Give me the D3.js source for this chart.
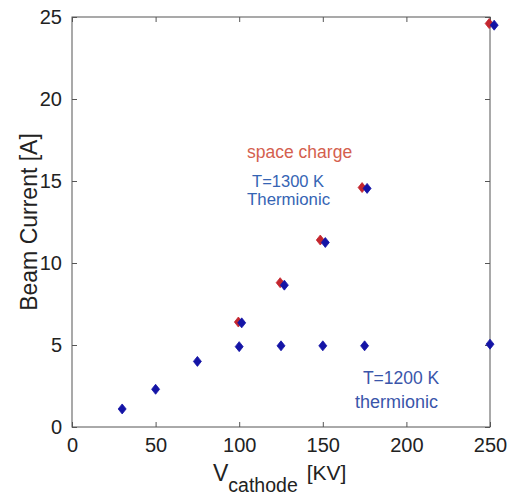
<!DOCTYPE html>
<html>
<head>
<meta charset="utf-8">
<script src="https://cdn.jsdelivr.net/npm/d3@7"></script>
<style>
  body { margin: 0; background: #fff; }
  text { font-family: "Liberation Sans", Arial, sans-serif; }
</style>
</head>
<body>
<svg width="508" height="495"></svg>
<script>
// space charge limited (red) and T=1300 K thermionic (blue, drawn slightly right)
const spaceV = [99.5, 124.5, 148.5, 173.5, 249.5];
const spaceI = [6.4, 8.8, 11.4, 14.6, 24.6];
const therm1300V = [101.5, 127, 151.5, 176.5, 252.5];
const therm1300I = [6.35, 8.65, 11.25, 14.55, 24.5];
// T=1200 K thermionic
const therm1200V = [30, 50, 75, 100, 125, 150, 175, 250];
const therm1200I = [1.1, 2.3, 4.0, 4.9, 4.95, 4.95, 4.95, 5.05];
const xTicks = [0, 50, 100, 150, 200, 250];
const yTicks = [0, 5, 10, 15, 20, 25];

const margin = {top: 17, right: 18, bottom: 68, left: 72};
const width = 508 - margin.left - margin.right,
      height = 495 - margin.top - margin.bottom;

let svg = d3.select('svg');
let g = svg.append('g').attr('transform', `translate(${margin.left},${margin.top})`);

let x = d3.scaleLinear().domain([0, 250]).range([0, width]);
let y = d3.scaleLinear().domain([0, 25]).range([height, 0]);

const axisColor = '#555';

// box + inward ticks like matlab
g.append('rect')
    .attr('width', width).attr('height', height)
    .attr('fill', 'none').attr('stroke', axisColor).attr('stroke-width', 1);

function styleAxis(sel) {
    sel.select('.domain').remove();
    sel.selectAll('.tick line').attr('stroke', axisColor);
    sel.selectAll('.tick text')
        .attr('fill', '#222')
        .style('font-size', '20px');
}

g.append('g').attr('transform', `translate(0,${height})`)
    .call(d3.axisBottom(x).tickValues(xTicks).tickSize(-5).tickPadding(11))
    .call(styleAxis);
g.append('g')
    .call(d3.axisTop(x).tickValues(xTicks).tickSize(-5).tickFormat(''))
    .call(styleAxis);
g.append('g')
    .call(d3.axisLeft(y).tickValues(yTicks).tickSize(-5).tickPadding(10))
    .call(styleAxis);
g.append('g').attr('transform', `translate(${width},0)`)
    .call(d3.axisRight(y).tickValues(yTicks).tickSize(-5).tickFormat(''))
    .call(styleAxis);

// markers
const diamond = 'M0,-5L4,0L0,5L-4,0Z';

function drawSeries(vs, is, color) {
    g.append('g').selectAll('path')
        .data(vs.map((v, i) => ({v: v, c: is[i]})))
        .enter().append('path')
        .attr('d', diamond)
        .attr('transform', d => `translate(${x(d.v)},${y(d.c)})`)
        .attr('fill', color)
        .attr('stroke', color)
        .attr('stroke-width', 0.8);
}

drawSeries(spaceV, spaceI, '#c4262e');
drawSeries(therm1300V, therm1300I, '#1414a6');
drawSeries(therm1200V, therm1200I, '#1414a6');

// annotations
const notes = [
    {t: 'space charge', vx: 104.7, vy: 16.4, c: '#d4604e', s: 17.5},
    {t: 'T=1300 K', vx: 107.7, vy: 14.63, c: '#3564b4', s: 16.5},
    {t: 'Thermionic', vx: 104.7, vy: 13.54, c: '#3564b4', s: 16.8},
    {t: 'T=1200 K', vx: 174, vy: 2.62, c: '#3a55aa', s: 17.5},
    {t: 'thermionic', vx: 169.3, vy: 1.16, c: '#3a55aa', s: 18}
];
g.selectAll('.note')
    .data(notes)
    .enter().append('text')
    .attr('class', 'note')
    .attr('x', d => x(d.vx))
    .attr('y', d => y(d.vy))
    .attr('fill', d => d.c)
    .style('font-size', d => d.s + 'px')
    .text(d => d.t);

// axis labels
svg.append('text')
    .attr('transform', `translate(37,${margin.top + height / 2}) rotate(-90)`)
    .attr('text-anchor', 'middle')
    .attr('fill', '#222')
    .style('font-size', '23px')
    .text('Beam Current [A]');

let xl = svg.append('text')
    .attr('x', 213)
    .attr('y', 481)
    .attr('fill', '#222')
    .style('font-size', '23px');
xl.append('tspan').text('V');
xl.append('tspan').attr('dy', 11).style('font-size', '19.5px').text('cathode');
xl.append('tspan').attr('dy', -12).attr('dx', 9).style('font-size', '21px').text('[KV]');
</script>
</body>
</html>
